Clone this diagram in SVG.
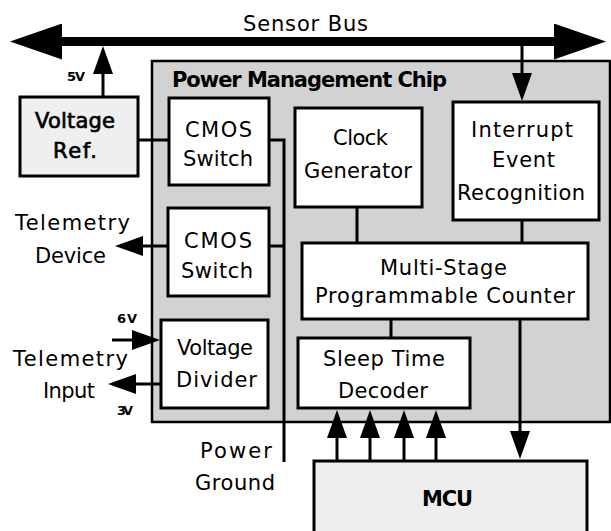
<svg xmlns="http://www.w3.org/2000/svg" width="611" height="531" viewBox="0 0 611 531">
<style>
text{font-family:"DejaVu Sans","Verdana",sans-serif;font-size:21px;fill:#000}
.b{font-weight:bold}
.m{stroke:#000;stroke-width:0.7}
.s{font-size:13px;font-weight:bold}
.box{fill:#fff;stroke:#000;stroke-width:3}
.ln{fill:none;stroke:#000;stroke-width:3}
.ar{fill:none;stroke:#000;stroke-width:3;marker-end:url(#ah)}
</style>
<defs>
<marker id="ah" viewBox="0 0 28 20" refX="2" refY="10" markerWidth="28" markerHeight="20" markerUnits="userSpaceOnUse" orient="auto">
<path d="M0,0 L28,10 L0,20 Z" fill="#000"/>
</marker>
<marker id="big" viewBox="0 0 52 36" refX="1" refY="18" markerWidth="52" markerHeight="36" markerUnits="userSpaceOnUse" orient="auto-start-reverse">
<path d="M0,0 L52,18 L0,36 Z" fill="#000"/>
</marker>
</defs>
<rect width="611" height="531" fill="#fff"/>

<g id="chip">
<rect x="152" y="61" width="458" height="361" fill="#d2d2d2" stroke="#000" stroke-width="2.5"/>
<text class="b" x="172" y="87" textLength="275">Power Management Chip</text>
</g>

<g id="connectors">
<line x1="61" y1="41.5" x2="555" y2="41.5" stroke="#000" stroke-width="9" marker-start="url(#big)" marker-end="url(#big)"/>
<line class="ar" x1="103" y1="97" x2="103" y2="72"/>
<line class="ar" x1="522" y1="46" x2="522" y2="75"/>
<polyline class="ln" points="138,140 169,140"/>
<polyline class="ln" points="269,140 284,140 284,462"/>
<polyline class="ln" points="269,246 284,246"/>
<line class="ar" x1="168" y1="246" x2="141" y2="246"/>
<line class="ar" x1="112" y1="340" x2="134" y2="340"/>
<line class="ar" x1="161" y1="384" x2="134" y2="384"/>
<line class="ln" x1="357" y1="207" x2="357" y2="243"/>
<line class="ln" x1="522" y1="220" x2="522" y2="243"/>
<line class="ln" x1="391" y1="319" x2="391" y2="338"/>
<line class="ar" x1="520" y1="319" x2="520" y2="433"/>
<line class="ar" x1="337" y1="461" x2="337" y2="436"/>
<line class="ar" x1="370" y1="461" x2="370" y2="436"/>
<line class="ar" x1="404" y1="461" x2="404" y2="436"/>
<line class="ar" x1="436" y1="461" x2="436" y2="436"/>
</g>

<g id="sensor-bus-label"><text x="243" y="31" textLength="125">Sensor Bus</text></g>
<g id="label-5v"><text class="s" x="67" y="81" textLength="18">5V</text></g>

<g id="voltage-ref">
<rect x="20" y="97" width="118" height="79" fill="#efefef" stroke="#000" stroke-width="3"/>
<text class="m" x="35" y="128" textLength="80">Voltage</text>
<text class="m" x="53" y="158" textLength="44">Ref.</text>
</g>

<g id="cmos-switch-1">
<rect class="box" x="169" y="98" width="100" height="87"/>
<text x="185" y="137" textLength="67">CMOS</text>
<text x="183" y="166" textLength="70">Switch</text>
</g>

<g id="cmos-switch-2">
<rect class="box" x="168" y="208" width="101" height="88"/>
<text x="184" y="248" textLength="68">CMOS</text>
<text x="181" y="278" textLength="72">Switch</text>
</g>

<g id="voltage-divider">
<rect class="box" x="161" y="320" width="107" height="88"/>
<text x="177" y="355" textLength="76">Voltage</text>
<text x="176" y="387" textLength="81">Divider</text>
</g>

<g id="clock-generator">
<rect class="box" x="295" y="108" width="127" height="99"/>
<text x="333" y="145" textLength="55">Clock</text>
<text x="304" y="178" textLength="108">Generator</text>
</g>

<g id="interrupt-event-recognition">
<rect class="box" x="453" y="102" width="146" height="118"/>
<text x="471" y="137" textLength="102">Interrupt</text>
<text x="492" y="167" textLength="63">Event</text>
<text x="457" y="200" textLength="128">Recognition</text>
</g>

<g id="multi-stage-counter">
<rect class="box" x="302" y="243" width="286" height="76"/>
<text x="380" y="275" textLength="127">Multi-Stage</text>
<text x="315" y="303" textLength="260">Programmable Counter</text>
</g>

<g id="sleep-time-decoder">
<rect class="box" x="298" y="338" width="172" height="70"/>
<text x="323" y="366" textLength="122">Sleep Time</text>
<text x="338" y="398" textLength="90">Decoder</text>
</g>

<g id="mcu">
<rect x="314" y="461" width="273" height="80" fill="#eeeeee" stroke="#000" stroke-width="3"/>
<text class="b" x="422" y="506" textLength="51">MCU</text>
</g>

<g id="telemetry-device"><text x="15" y="230" textLength="115">Telemetry</text><text x="35" y="263" textLength="71">Device</text></g>
<g id="telemetry-input"><text x="13" y="366" textLength="115">Telemetry</text><text x="43" y="398" textLength="52">Input</text></g>
<g id="label-6v"><text class="s" x="117" y="323" textLength="20">6V</text></g>
<g id="label-3v"><text class="s" x="117" y="415" textLength="16">3V</text></g>
<g id="power-ground"><text x="200" y="458" textLength="72">Power</text><text x="195" y="490" textLength="80">Ground</text></g>
</svg>
